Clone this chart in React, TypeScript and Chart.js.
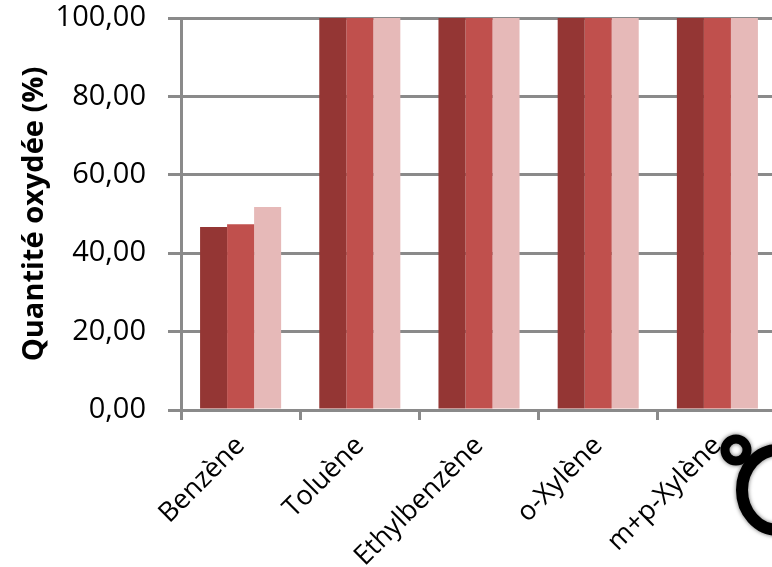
import React, { useEffect, useRef } from "react";
import { Chart, registerables } from "chart.js";

Chart.register(...registerables);

const categories = ["Benzène", "Toluène", "Ethylbenzène", "o-Xylène", "m+p-Xylène"];
const series1 = [46.7, 100, 100, 100, 100];
const series2 = [47.4, 100, 100, 100, 100];
const series3 = [51.8, 100, 100, 100, 100];
const seriesNames = ["Série 1", "Série 2", "Série 3"];
const yTicks = [0, 20, 40, 60, 80, 100];
const yTitle = "Quantité oxydée (%)";

const GRAY = "#8a8a8a";
const FONT = "'Open Sans', 'Liberation Sans', sans-serif";

const decoPlugin = {
  id: "deco",
  afterDraw(chart: any) {
    const ctx = chart.ctx;
    ctx.save();
    ctx.shadowColor = "rgba(0,0,0,0.6)";
    ctx.shadowBlur = 4;
    ctx.strokeStyle = "#000";
    ctx.lineWidth = 9;
    ctx.beginPath();
    ctx.arc(736, 450, 11, 0, Math.PI * 2);
    ctx.stroke();
    ctx.lineWidth = 12;
    ctx.beginPath();
    ctx.ellipse(778, 490, 36, 40, 0, 0, Math.PI * 2);
    ctx.stroke();
    ctx.restore();
  },
};

export default function App() {
  const ref = useRef<HTMLCanvasElement | null>(null);
  useEffect(() => {
    if (!ref.current) return;
    const chart = new Chart(ref.current, {
      type: "bar",
      data: {
        labels: categories,
        datasets: [
          { label: seriesNames[0], data: series1, backgroundColor: "#943634" },
          { label: seriesNames[1], data: series2, backgroundColor: "#C0504D" },
          { label: seriesNames[2], data: series3, backgroundColor: "#E6B9B8" },
        ],
      },
      options: {
        animation: false,
        responsive: true,
        maintainAspectRatio: false,
        layout: { padding: { left: 0, top: 18, right: 13, bottom: 0 } },
        datasets: { bar: { categoryPercentage: 0.68, barPercentage: 1.0 } },
        plugins: { legend: { display: false }, tooltip: { enabled: false } },
        scales: {
          x: {
            afterFit: (s: any) => {
              s.height = 157;
              s.paddingLeft = 0;
              s.paddingRight = 0;
            },
            grid: {
              display: true,
              drawOnChartArea: false,
              drawTicks: true,
              tickLength: 10,
              color: GRAY,
              lineWidth: 3,
              offset: true,
            },
            border: { display: true, color: GRAY, width: 3 },
            ticks: {
              color: "#000",
              font: { family: FONT, size: 27 },
              minRotation: 45,
              maxRotation: 45,
              padding: 10,
              autoSkip: false,
            },
          },
          y: {
            min: 0,
            max: 100,
            afterFit: (s: any) => {
              s.width = 181;
              s.paddingTop = 0;
              s.paddingBottom = 0;
            },
            afterBuildTicks: (s: any) => {
              s.ticks = yTicks.map((v) => ({ value: v }));
            },
            grid: {
              display: true,
              drawTicks: true,
              tickLength: 13,
              color: GRAY,
              lineWidth: 3,
            },
            border: { display: true, color: GRAY, width: 3 },
            ticks: {
              color: "#000",
              font: { family: FONT, size: 29 },
              padding: 22,
              callback: (v: any) => Number(v).toFixed(2).replace(".", ","),
            },
            title: {
              display: true,
              text: yTitle,
              color: "#000",
              font: { family: FONT, size: 29, weight: "bold" },
              padding: { top: 17, bottom: 0 },
            },
          },
        },
      },
      plugins: [decoPlugin],
    });
    return () => chart.destroy();
  }, []);
  return (
    <div
      style={{
        position: "fixed",
        left: 0,
        top: 0,
        width: 772,
        height: 567,
        overflow: "hidden",
        background: "#fff",
      }}
    >
      <div style={{ position: "relative", width: 790, height: 567 }}>
        <canvas ref={ref} />
      </div>
    </div>
  );
}
